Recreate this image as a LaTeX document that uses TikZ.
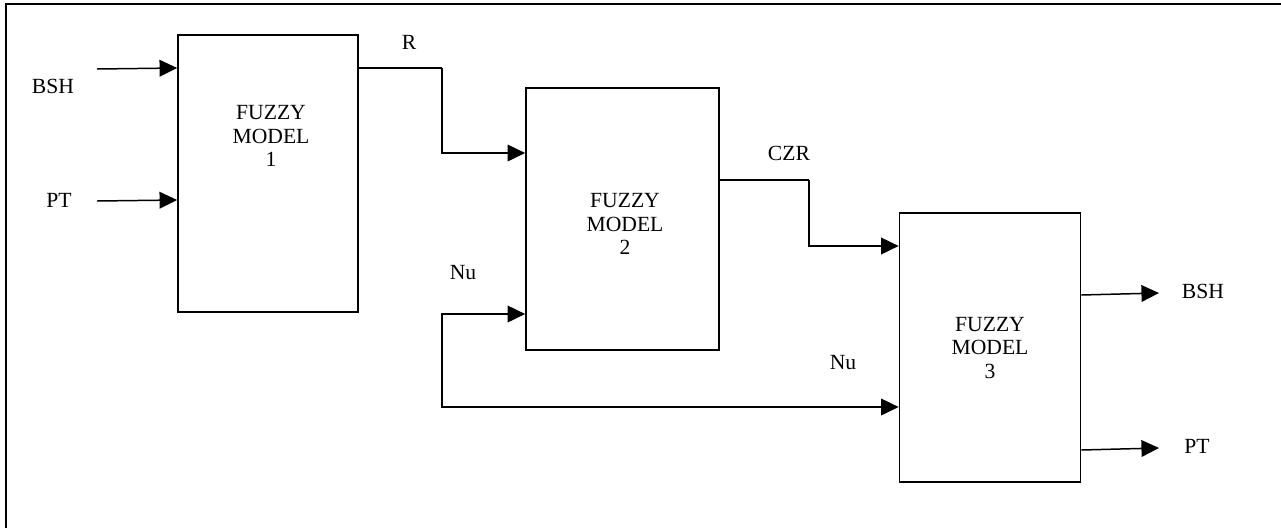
\documentclass[tikz,border=0pt]{standalone}
\usepackage{fontspec}
\setmainfont{Liberation Serif}
\usetikzlibrary{arrows.meta,positioning,calc}

\begin{document}
\begin{tikzpicture}[
    x=0.02cm, y=-0.02cm,
    model/.style={rectangle, draw, line width=1pt, inner sep=0pt, minimum width=#1},
    arr/.style={-{Triangle[length=10pt, width=9.5pt]}, line width=0.85pt},
    wire/.style={line width=0.85pt},
    lbl/.style={font=\fontsize{12.3}{13.6}\selectfont, align=center, inner sep=0pt}
]
    \useasboundingbox (0,0) rectangle (1281,528);
    % frame
    \draw[line width=1.1pt] (6,528) -- (6,4) -- (1281,4);

    % models
    \node[model=3.6cm, minimum height=5.54cm] (m1) at (268,173.5) {};
    \node[model=3.86cm, minimum height=5.24cm] (m2) at (622.5,219) {};
    \node[model=3.62cm, minimum height=5.38cm] (m3) at (990,347.5) {};
    \node[lbl] (t1) at (271,136) {FUZZY\\MODEL\\1};
    \node[lbl] (t2) at (625,224) {FUZZY\\MODEL\\2};
    \node[lbl] (t3) at (990,348) {FUZZY\\MODEL\\3};

    % inputs of model 1
    \node[lbl] (bshin) at (53,86) {BSH};
    \node[lbl] (ptin)  at (59,200) {PT};
    \coordinate (bshs) at (97,69);
    \coordinate (pts)  at (97,201);
    \draw[arr] (bshs) -- (m1.west |- 0,68);
    \draw[arr] (pts) -- (m1.west |- 0,200);

    % R
    \node[lbl] (r) at (409,42) {R};
    \coordinate (rbend) at (442,68);
    \draw[wire] (m1.east |- 0,68) -- (rbend);
    \draw[arr] (rbend) |- (m2.west |- 0,153);

    % CZR
    \node[lbl] (czr) at (789,153) {CZR};
    \coordinate (czrbend) at (809,180);
    \draw[wire] (m2.east |- 0,180) -- (czrbend);
    \draw[arr] (czrbend) |- (m3.west |- 0,246);

    % Nu
    \node[lbl] (nu1) at (463,273) {Nu};
    \node[lbl] (nu2) at (843,363) {Nu};
    \coordinate (nu) at (442,360);
    \draw[arr] (nu) |- (m2.west |- 0,314);
    \draw[arr] (nu) |- (m3.west |- 0,407);

    % outputs of model 3
    \node[lbl] (bshout) at (1203,291) {BSH};
    \node[lbl] (ptout)  at (1197,446) {PT};
    \coordinate (bshe) at (1159,293);
    \coordinate (pte)  at (1159,448);
    \draw[arr] (m3.east |- 0,295) -- (bshe);
    \draw[arr] (m3.east |- 0,450) -- (pte);
\end{tikzpicture}
\end{document}
